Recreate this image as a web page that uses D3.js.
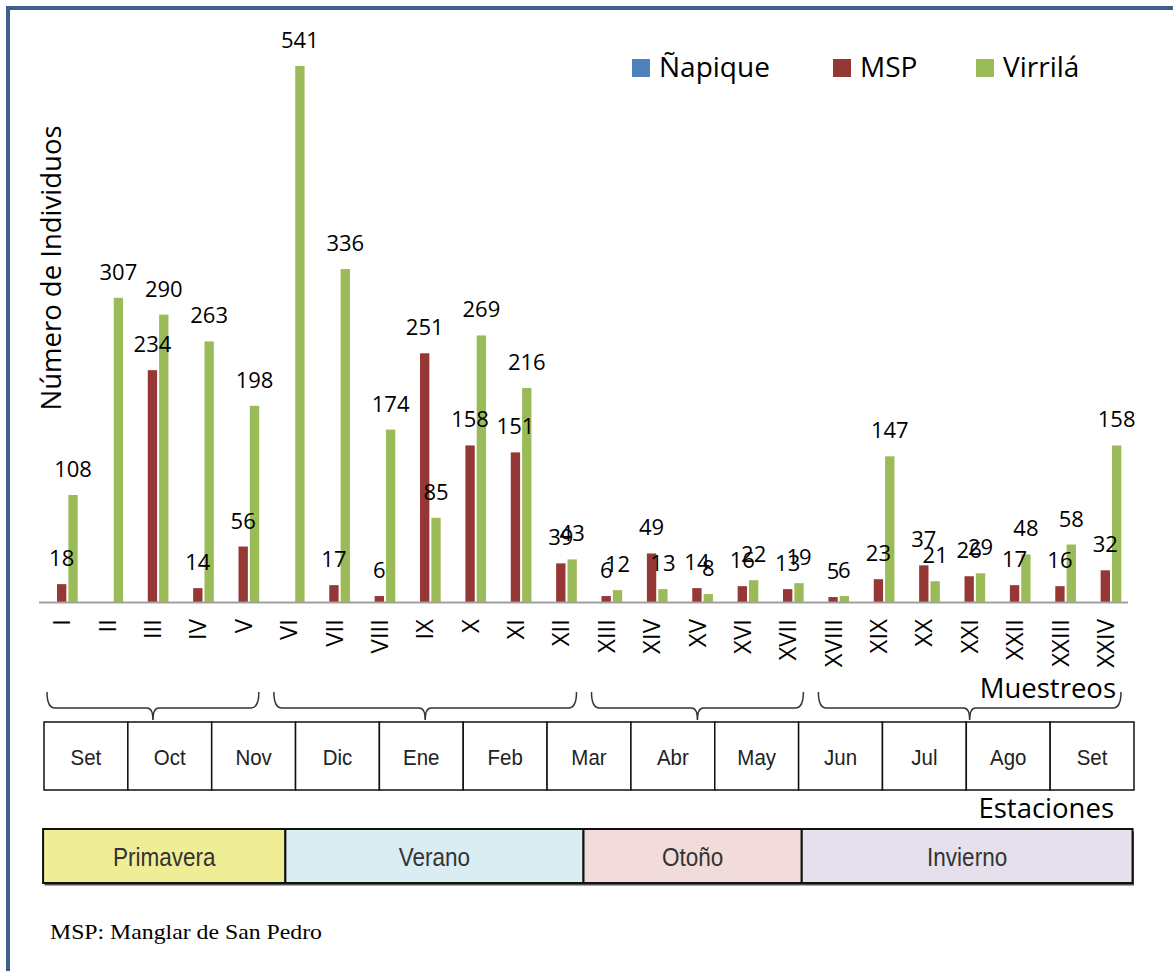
<!DOCTYPE html>
<html>
<head>
<meta charset="utf-8">
<script src="https://cdn.jsdelivr.net/npm/d3@7"></script>
<style>
  body { margin: 0; background: #fff; }
  svg { display: block; }
</style>
</head>
<body>
<div id="chart"></div>
<script>
var width = 1173,
    height = 971;

// data
var samples = ["I","II","III","IV","V","VI","VII","VIII","IX","X","XI","XII",
               "XIII","XIV","XV","XVI","XVII","XVIII","XIX","XX","XXI","XXII","XXIII","XXIV"];
var series = ["Ñapique", "MSP", "Virrilá"];
var napique = [null,null,null,null,null,null,null,null,null,null,null,null,
               null,null,null,null,null,null,null,null,null,null,null,null];
var msp     = [18,null,234,14,56,null,17,6,251,158,151,39,
               6,49,14,16,13,5,23,37,26,17,16,32];
var virrila = [108,307,290,263,198,541,336,174,85,269,216,43,
               12,13,8,22,19,6,147,21,29,48,58,158];
var colors = ["#4f81bd", "#953735", "#9bbb59"];
var months = ["Set","Oct","Nov","Dic","Ene","Feb","Mar","Abr","May","Jun","Jul","Ago","Set"];
// sample groups under each brace (first, last sample index)
var groups = [[0,4],[5,11],[12,16],[17,23]];
var seasons = ["Primavera","Verano","Otoño","Invierno"];
var seasonColors = ["#efed96","#daedf3","#f2dcdb","#e5e0ec"];
// season limits measured along the sample axis
var seasonEdges = [0.09, 5.43, 12.0, 16.81, 24.1];

var svg = d3.select("#chart").append("svg")
  .attr("width", width)
  .attr("height", height);

// frame
svg.append("rect")
  .attr("x", 8).attr("y", 8)
  .attr("width", 1300).attr("height", 1100)
  .attr("fill", "none")
  .attr("stroke", "#3e5f8c")
  .attr("stroke-width", 4);

var x = d3.scaleBand().domain(samples).range([39, 1128]);
var xs = d3.scaleBand().domain(series).range([-17, 17]);
var xl = d3.scaleLinear().domain([0, samples.length]).range([39, 1128]);
var y = d3.scaleLinear().domain([0, 600]).range([602, 7.5]);

var values = [napique, msp, virrila];
var bars = [];
values.forEach(function(vals, s) {
  vals.forEach(function(v, i) {
    if (v != null) bars.push({s: s, i: i, v: v});
  });
});

var g = svg.append("g");
g.selectAll("rect.bar")
  .data(bars)
  .enter().append("rect")
  .attr("class", "bar")
  .attr("x", function(d) { return x(samples[d.i]) + x.bandwidth()/2 + xs(series[d.s]) + 1; })
  .attr("width", xs.bandwidth() - 2)
  .attr("y", function(d) { return y(d.v); })
  .attr("height", function(d) { return y(0) - y(d.v); })
  .attr("fill", function(d) { return colors[d.s]; });

// axis line
svg.append("line")
  .attr("x1", 39).attr("x2", 1128)
  .attr("y1", y(0) + 0.5).attr("y2", y(0) + 0.5)
  .attr("stroke", "#a0a0a0")
  .attr("stroke-width", 2);

// data labels
g.selectAll("text.lbl")
  .data(bars)
  .enter().append("text")
  .attr("class", "lbl")
  .attr("x", function(d) { return x(samples[d.i]) + x.bandwidth()/2 + xs(series[d.s]) + xs.bandwidth()/2; })
  .attr("y", function(d) { return y(d.v) - 18; })
  .attr("text-anchor", "middle")
  .style("font-family", "Open Sans")
  .style("font-size", "22px")
  .attr("fill", "#000")
  .text(function(d) { return d.v; });

// x tick labels
svg.selectAll("text.tick")
  .data(samples)
  .enter().append("text")
  .attr("class", "tick")
  .attr("transform", function(d) { return "translate(" + (x(d) + x.bandwidth()/2) + ",619) rotate(-90)"; })
  .attr("dy", "0.36em")
  .attr("text-anchor", "end")
  .style("font-family", "Open Sans")
  .style("font-size", "24px")
  .text(function(d) { return d; });

// y title
svg.append("text")
  .attr("transform", "translate(61,268) rotate(-90)")
  .attr("text-anchor", "middle")
  .style("font-family", "Open Sans")
  .style("font-size", "27.5px")
  .text("Número de Individuos");

// legend
var legX = [632, 833, 976];
var leg = svg.selectAll("g.leg")
  .data(series)
  .enter().append("g")
  .attr("class", "leg")
  .attr("transform", function(d, i) { return "translate(" + legX[i] + ",59)"; });
leg.append("rect")
  .attr("width", 18).attr("height", 18)
  .attr("fill", function(d, i) { return colors[i]; });
leg.append("text")
  .attr("x", 27).attr("y", 18)
  .style("font-family", "Open Sans")
  .style("font-size", "28px")
  .text(function(d) { return d; });

// Muestreos / Estaciones
svg.append("text")
  .attr("x", 1116).attr("y", 698)
  .attr("text-anchor", "end")
  .style("font-family", "Open Sans")
  .style("font-size", "27.5px")
  .text("Muestreos");
svg.append("text")
  .attr("x", 1114).attr("y", 818)
  .attr("text-anchor", "end")
  .style("font-family", "Open Sans")
  .style("font-size", "27.5px")
  .text("Estaciones");

// braces
function brace(x0, x1) {
  var top = 692, mid = 708, tip = 720, c = (x0 + x1) / 2;
  return "M" + x0 + "," + top +
    " Q" + x0 + "," + mid + " " + (x0 + 8) + "," + mid +
    " L" + (c - 6) + "," + mid +
    " Q" + c + "," + mid + " " + c + "," + tip +
    " Q" + c + "," + mid + " " + (c + 6) + "," + mid +
    " L" + (x1 - 8) + "," + mid +
    " Q" + x1 + "," + mid + " " + x1 + "," + top;
}
svg.selectAll("path.brace")
  .data(groups)
  .enter().append("path")
  .attr("class", "brace")
  .attr("d", function(d) { return brace(x(samples[d[0]]) + 8, x(samples[d[1]]) + x.bandwidth() - 7); })
  .attr("fill", "none")
  .attr("stroke", "#333")
  .attr("stroke-width", 1.5);

// months row
var xm = d3.scaleBand().domain(d3.range(months.length)).range([44, 1134]);
var mg = svg.selectAll("g.month")
  .data(months)
  .enter().append("g")
  .attr("class", "month")
  .attr("transform", function(d, i) { return "translate(" + xm(i) + ",722)"; });
mg.append("rect")
  .attr("width", xm.bandwidth()).attr("height", 68)
  .attr("fill", "#fff")
  .attr("stroke", "#111")
  .attr("stroke-width", 1.5);
mg.append("text")
  .attr("x", xm.bandwidth()/2).attr("y", 43)
  .attr("text-anchor", "middle")
  .style("font-family", "Liberation Sans")
  .style("font-size", "22px")
  .attr("fill", "#222")
  .text(function(d) { return d; })
  .each(function() {
    var w = this.getComputedTextLength();
    d3.select(this).attr("textLength", w * 0.93).attr("lengthAdjust", "spacingAndGlyphs");
  });

// seasons row
var sg = svg.selectAll("g.season")
  .data(seasons)
  .enter().append("g")
  .attr("class", "season");
sg.append("rect")
  .attr("x", function(d, i) { return xl(seasonEdges[i]) + 1.5; })
  .attr("y", 831.5)
  .attr("width", function(d, i) { return xl(seasonEdges[i+1]) - xl(seasonEdges[i]); })
  .attr("height", 54)
  .attr("fill", "#555");
sg.append("rect")
  .attr("x", function(d, i) { return xl(seasonEdges[i]); })
  .attr("y", 829)
  .attr("width", function(d, i) { return xl(seasonEdges[i+1]) - xl(seasonEdges[i]); })
  .attr("height", 54)
  .attr("fill", function(d, i) { return seasonColors[i]; })
  .attr("stroke", "#111")
  .attr("stroke-width", 2);
sg.append("text")
  .attr("x", function(d, i) { return (xl(seasonEdges[i]) + xl(seasonEdges[i+1])) / 2; })
  .attr("y", 866)
  .attr("text-anchor", "middle")
  .style("font-family", "Liberation Sans")
  .style("font-size", "25px")
  .attr("fill", "#333")
  .text(function(d) { return d; })
  .each(function() {
    var w = this.getComputedTextLength();
    d3.select(this).attr("textLength", w * 0.9).attr("lengthAdjust", "spacingAndGlyphs");
  });

// footnote
svg.append("text")
  .attr("x", 50).attr("y", 939)
  .style("font-family", "Liberation Serif")
  .style("font-size", "22px")
  .attr("textLength", 272)
  .attr("lengthAdjust", "spacingAndGlyphs")
  .text("MSP: Manglar de San Pedro");
</script>
</body>
</html>
